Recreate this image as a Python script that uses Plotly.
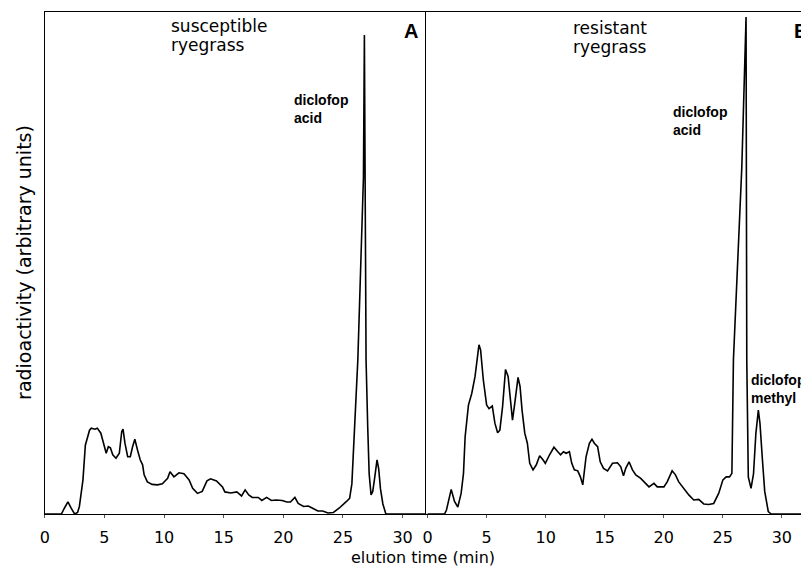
import plotly.graph_objects as go

# ---------------- data ----------------
time_susceptible = [0, 1.39, 1.65, 1.94, 2.2, 2.5, 2.75, 2.9, 3.2, 3.4, 3.75, 3.9, 4.2, 4.4, 4.7, 5.0,
                    5.15, 5.33, 5.5, 5.7, 5.97, 6.25, 6.45, 6.56, 6.72, 6.95, 7.17, 7.36, 7.55, 7.78,
                    8.0, 8.2, 8.33, 8.6, 9.0, 9.45, 9.86, 10.3, 10.5, 10.83, 11.25, 11.67, 12.1, 12.4,
                    12.8, 13.2, 13.6, 13.9, 14.4, 14.9, 15.1, 15.6, 16.1, 16.5, 16.8, 17.1, 17.4, 17.9,
                    18.2, 18.6, 19.0, 19.4, 19.9, 20.3, 20.6, 20.97, 21.25, 21.7, 22.1, 22.5, 22.9,
                    23.3, 23.75, 24.2, 24.7, 25.3, 25.56, 25.75, 25.97, 26.25, 26.5, 26.72, 26.8,
                    26.88, 26.94, 27.08, 27.2, 27.36, 27.5, 27.65, 27.86, 28.0, 28.15, 28.35, 28.6, 32]
signal_susceptible = [0, 0, 1.2, 2.4, 1.2, 0, 0.3, 1.5, 6.8, 13.7, 16.7, 17.1, 16.9, 17.1, 16.1, 13.4,
                      12.1, 13.4, 13.2, 11.8, 11.1, 12.1, 16.4, 16.9, 14.1, 11.4, 11.4, 13.4, 14.9, 12.7,
                      10.8, 9.8, 7.8, 6.4, 5.9, 5.8, 6.0, 7.1, 8.4, 7.4, 8.2, 8.0, 6.8, 5.1,
                      4.1, 4.5, 6.6, 7.0, 6.6, 5.4, 4.4, 4.2, 4.4, 3.6, 4.8, 3.8, 3.3, 3.3,
                      2.7, 3.3, 2.7, 2.8, 2.7, 2.4, 2.4, 3.3, 2.1, 1.5, 1.6, 1.1, 0.6,
                      0.6, 0.2, 0.3, 1.2, 2.5, 3.1, 6.0, 17.3, 30.7, 50.0, 67.0, 95.4,
                      67.0, 30.7, 17.3, 8.0, 3.8, 4.5, 7.0, 10.8, 9.0, 5.0, 2.0, 0, 0]

time_resistant = [0, 1.44, 1.6, 1.78, 2.0, 2.28, 2.56, 2.84, 3.04, 3.18, 3.46, 3.74, 4.02, 4.35, 4.49,
                  4.72, 5.0, 5.2, 5.48, 5.7, 5.93, 6.12, 6.35, 6.6, 6.82, 7.02, 7.19, 7.38, 7.66, 7.83,
                  8.0, 8.23, 8.45, 8.65, 8.93, 9.21, 9.49, 9.77, 9.97, 10.33, 10.7, 11.03, 11.26, 11.51,
                  11.73, 12.01, 12.21, 12.43, 12.72, 12.94, 13.14, 13.42, 13.7, 13.92, 14.12, 14.4,
                  14.62, 14.9, 15.24, 15.66, 16.08, 16.36, 16.59, 16.78, 17.06, 17.35, 17.63, 18.05,
                  18.47, 18.75, 19.17, 19.45, 20.01, 20.29, 20.71, 20.99, 21.27, 21.69, 22.12, 22.54,
                  22.96, 23.39, 23.81, 24.23, 24.65, 25.01, 25.29, 25.57, 25.77, 25.9, 26.25, 26.61,
                  26.97, 27.03, 27.16, 27.39, 27.6, 27.8, 28.01, 28.15, 28.35, 28.55, 28.85, 29.1, 32.3]
signal_resistant = [0, 0, 0.8, 2.8, 4.9, 2.5, 1.4, 4.1, 8.1, 15.4, 21.7, 24.0, 27.4, 33.7, 32.7,
                    26.7, 21.7, 21.0, 21.5, 18.1, 16.2, 16.7, 21.4, 28.8, 27.4, 22.7, 18.7, 22.0, 27.2, 25.4,
                    20.7, 16.1, 14.1, 10.1, 8.8, 9.8, 11.6, 10.8, 10.1, 11.8, 13.3, 12.4, 11.8, 12.4,
                    12.1, 12.4, 10.1, 8.8, 8.6, 7.4, 5.8, 11.4, 14.1, 14.9, 14.1, 13.4,
                    10.4, 9.1, 8.6, 10.1, 10.2, 9.4, 7.6, 9.1, 10.4, 8.8, 7.8, 7.1,
                    6.0, 5.4, 6.1, 5.4, 5.4, 6.4, 8.6, 7.8, 6.4, 5.1, 3.8, 2.8,
                    2.9, 2.0, 1.9, 2.1, 4.1, 6.8, 7.4, 7.4, 8.1, 30.7, 50.0, 69.1,
                    99.0, 30.7, 7.4, 5.1, 8.0, 16.0, 20.7, 18.0, 11.0, 4.5, 0.5, 0, 0]

tick_values = [0, 5, 10, 15, 20, 25, 30]
tick_labels = ["0", "5", "10", "15", "20", "25", "30"]

# ---------------- layout helpers (reference pixel -> paper) ----------------
# the page body adds an 8 px margin, so the figure is 8 px smaller and offset
OFF = 8
W, H = 809 - OFF, 568 - OFF
TOP, BASE = 12, 514          # reference pixel rows of top border and baseline


def px(x):
    return (x - OFF) / W


def py(y):
    return (BASE - y) / (BASE - TOP)


fig = go.Figure()
fig.add_trace(go.Scatter(x=time_susceptible, y=signal_susceptible, mode="lines",
                         line=dict(color="black", width=1.6), xaxis="x", yaxis="y",
                         showlegend=False, hoverinfo="skip"))
fig.add_trace(go.Scatter(x=time_resistant, y=signal_resistant, mode="lines",
                         line=dict(color="black", width=1.6), xaxis="x2", yaxis="y2",
                         showlegend=False, hoverinfo="skip"))

xcommon = dict(showgrid=False, zeroline=False, showline=True, linecolor="black", linewidth=1.3,
               mirror=True, ticks="outside", ticklen=3, tickwidth=1, tickcolor="#555",
               tickvals=tick_values, ticktext=tick_labels,
               tickfont=dict(family="DejaVu Sans", size=16, color="black"),
               ticklabelstandoff=6, fixedrange=True)
ycommon = dict(showgrid=False, zeroline=False, showline=True, linecolor="black", linewidth=1.3,
               showticklabels=False, ticks="", range=[0, 100], fixedrange=True)

fig.update_layout(
    width=W, height=H,
    margin=dict(l=0, r=0, t=TOP - OFF, b=568 - BASE),
    paper_bgcolor="white", plot_bgcolor="white",
    xaxis=dict(domain=[px(40), px(424)], range=[0, 32], anchor="y", **xcommon),
    yaxis=dict(domain=[0, 1], anchor="x", **ycommon),
    xaxis2=dict(domain=[px(424), 1], range=[-0.1, 32.3], anchor="y2", **xcommon),
    yaxis2=dict(domain=[0, 1], anchor="x2", **ycommon),
)

label_font = dict(family="DejaVu Sans", size=17, color="black")
peak_font = dict(family="Liberation Sans", size=14, color="black", weight="bold")


def note(text, x, y, font, xanchor="left", angle=0):
    fig.add_annotation(text=text, x=px(x), y=py(y), xref="paper", yref="paper",
                       xanchor=xanchor, yanchor="middle", showarrow=False, align="left",
                       font=font, textangle=angle, borderpad=0)


note("susceptible", 166, 26, label_font)
note("ryegrass", 166, 45, label_font)
note("resistant", 571, 28, label_font)
note("ryegrass", 571, 47, label_font)
note("A", 408, 31, dict(family="Liberation Sans", size=20, color="black", weight="bold"), xanchor="center")
note("B", 801, 31, dict(family="Liberation Sans", size=20, color="black", weight="bold"), xanchor="center")
note("diclofop<br>acid", 290, 109, peak_font)
note("diclofop<br>acid", 671, 121, peak_font)
note("diclofop<br>methyl", 750, 389, peak_font)
note("radioactivity (arbitrary units)", 19, 262,
     dict(family="DejaVu Sans", size=19, color="black"), xanchor="center", angle=-90)
note("elution time (min)", 421, 557,
     dict(family="DejaVu Sans", size=16, color="black"), xanchor="center")

fig.write_html("out.html")
